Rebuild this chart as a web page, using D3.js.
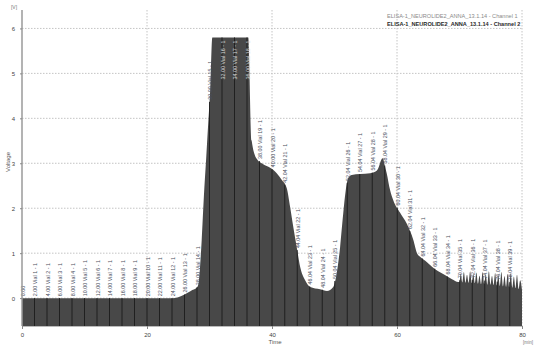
<!DOCTYPE html>
<html>
<head>
<meta charset="utf-8">
<script src="https://cdn.jsdelivr.net/npm/d3@7/dist/d3.min.js"></script>
<style>
  body { margin: 0; background: #fff; }
  svg { display: block; font-family: "Liberation Sans", Arial, sans-serif; }
</style>
</head>
<body>
<svg id="chart" width="534" height="348"></svg>
<script>
// detector trace (minutes / volts)
const timeMin = [0, 24, 25, 26, 27, 28, 28.2, 28.75, 29.1, 29.45, 29.8, 30.1, 30.45,
  36.2, 36.75, 37.55, 38.6, 39.7, 40.75, 41.6, 42.35, 42.9, 43.4, 43.95, 44.5, 45.3, 46.1,
  47.7, 48.8, 49.8, 50.35, 50.9, 51.4, 51.8, 52.2, 52.75, 54.1, 55.7, 56.5, 57.0, 57.45,
  57.7, 58.1, 58.35, 58.9, 59.4, 60.5, 61.55, 62.6, 63.2, 63.7, 64.8, 65.6, 66.6, 67.6,
  68.8, 69.8, 70.0, 70.2, 70.45, 70.7, 70.95, 71.2, 71.45, 71.7, 71.95, 72.2, 72.45, 72.7,
  72.95, 73.2, 73.45, 73.7, 73.95, 74.2, 74.45, 74.7, 74.95, 75.2, 75.45, 75.7, 75.95,
  76.2, 76.45, 76.7, 76.95, 77.2, 77.45, 77.7, 77.95, 78.2, 78.45, 78.7, 78.95, 79.2,
  79.45, 79.7, 80];
const voltage = [0, 0, 0.02, 0.08, 0.16, 0.24, 0.3, 1.29, 2.26, 3.07, 3.9, 4.6, 5.8,
  5.8, 3.5, 3.1, 2.98, 2.9, 2.78, 2.62, 2.45, 2.03, 1.59, 1.14, 0.7, 0.4, 0.25,
  0.2, 0.16, 0.25, 0.55, 1.14, 1.89, 2.4, 2.67, 2.74, 2.76, 2.78, 2.81, 2.89, 3.07,
  3.11, 2.92, 2.78, 2.4, 2.18, 1.9, 1.66, 1.3, 1.0, 0.92, 0.8, 0.7, 0.6, 0.52,
  0.42, 0.36, 0.36, 0.55, 0.35, 0.58, 0.34, 0.52, 0.34, 0.6, 0.33, 0.54, 0.33, 0.57,
  0.32, 0.5, 0.31, 0.58, 0.31, 0.53, 0.3, 0.6, 0.3, 0.5, 0.29, 0.56, 0.28,
  0.52, 0.27, 0.58, 0.26, 0.49, 0.25, 0.54, 0.24, 0.56, 0.23, 0.48, 0.22, 0.52,
  0.2, 0.4, 0.18];

// fraction collector marks
const fractionTimes = [0, 2, 4, 6, 8, 10, 12, 14, 16, 18, 20, 22, 24, 26, 28, 30, 32, 34,
  36, 38, 40, 42.04, 44.04, 46.04, 48.04, 50.04, 52.04, 54.04, 56.04, 58.04, 60.04, 62.04,
  64.04, 66.04, 68.04, 70.04, 72.04, 74.04, 76.04, 78.04];

const xTicks = [0, 20, 40, 60, 80];
const yTicks = [0, 1, 2, 3, 4, 5, 6];
const legendNames = ["ELISA-1_NEUROLIDE2_ANNA_13.1.14 - Channel 1",
                     "ELISA-1_NEUROLIDE2_ANNA_13.1.14 - Channel 2"];

const svg = d3.select("#chart");
const x = d3.scaleLinear().domain([0, 80]).range([22, 522]);
const y = d3.scaleLinear().domain([-0.62, 6.41]).range([326, 10]);

const trace = timeMin.map((t, i) => ({ t: t, v: voltage[i] }));
const bis = d3.bisector(d => d.t).left;
const valueAt = t => {
  let i = bis(trace, t);
  if (i <= 0) return trace[0].v;
  if (i >= trace.length) return trace[trace.length - 1].v;
  const a = trace[i - 1], b = trace[i];
  return a.v + (b.v - a.v) * (t - a.t) / (b.t - a.t);
};

// grid
const grid = svg.append("g").attr("stroke", "#c4c4c4").attr("stroke-dasharray", "1.5,1.5");
grid.selectAll("line.h").data(yTicks).enter().append("line")
  .attr("x1", x(0)).attr("x2", x(80)).attr("y1", d => y(d)).attr("y2", d => y(d));
grid.selectAll("line.v").data(xTicks.slice(1)).enter().append("line")
  .attr("x1", d => x(d)).attr("x2", d => x(d)).attr("y1", y(6.41)).attr("y2", y(-0.62));

// filled trace
svg.append("path")
  .datum(trace)
  .attr("fill", "#484848")
  .attr("d", d3.area().curve(d3.curveMonotoneX)
    .x(d => x(d.t)).y0(y(-0.62)).y1(d => y(d.v)));

// fraction dividers
svg.append("g").selectAll("line").data(fractionTimes.slice(1)).enter().append("line")
  .attr("x1", d => x(d)).attr("x2", d => x(d))
  .attr("y1", y(-0.62)).attr("y2", d => y(valueAt(d)))
  .attr("stroke", "#1c1c1c").attr("stroke-width", 0.9);

// fraction labels: above the trace, or inside it when there is no room above
svg.append("g").selectAll("text").data(fractionTimes).enter().append("text")
  .attr("font-size", "5.4px")
  .text((t, i) => i === 0 ? "0.00" : t.toFixed(2) + " Vial " + i + " - 1")
  .each(function(t) {
    const v = valueAt(t);
    const len = this.getComputedTextLength();
    const inside = y(v) - 2 - len < 3;
    const px = x(t) + 2.5;
    const py = inside ? y(v) + 3 : y(v) - 2;
    d3.select(this)
      .attr("transform", "translate(" + px + "," + py + ") rotate(-90)")
      .attr("text-anchor", inside ? "end" : "start")
      .attr("fill", inside ? "#d8d8d8" : "#4a4f60");
  });

// axes
svg.append("line").attr("x1", x(0)).attr("x2", x(0)).attr("y1", y(6.41)).attr("y2", y(-0.62))
  .attr("stroke", "#9a9a9a").attr("stroke-width", 1.5);

const xAxis = svg.append("g").attr("transform", "translate(0," + y(-0.62) + ")")
  .call(d3.axisBottom(x).tickValues(xTicks).tickSize(3).tickFormat(d3.format("d")));
xAxis.select(".domain").attr("stroke", "#bbb");
xAxis.selectAll(".tick line").attr("stroke", "#888");
xAxis.selectAll(".tick text").attr("font-size", "6px").attr("fill", "#444").attr("dy", "0.9em")
  .attr("font-family", "Liberation Sans, Arial, sans-serif");

const yAxis = svg.append("g").attr("transform", "translate(" + x(0) + ",0)")
  .call(d3.axisLeft(y).tickValues(yTicks).tickSize(2).tickFormat(d3.format("d")));
yAxis.select(".domain").remove();
yAxis.selectAll(".tick line").attr("stroke", "#888");
yAxis.selectAll(".tick text").attr("font-size", "6px").attr("fill", "#444").attr("dx", "-2px")
  .attr("font-family", "Liberation Sans, Arial, sans-serif");

// axis titles
svg.append("text").attr("x", 275).attr("y", 344).attr("text-anchor", "middle")
  .attr("font-size", "6px").attr("fill", "#555").text("Time");
svg.append("text").attr("x", 533).attr("y", 344).attr("text-anchor", "end")
  .attr("font-size", "4.6px").attr("fill", "#777").text("[min]");
svg.append("text").attr("x", 14).attr("y", 9).attr("text-anchor", "middle")
  .attr("font-size", "5px").attr("fill", "#777").text("[V]");
svg.append("text").attr("transform", "translate(10,162) rotate(-90)").attr("text-anchor", "middle")
  .attr("font-size", "6px").attr("fill", "#555").text("Voltage");

// legend
svg.append("g").selectAll("text").data(legendNames).enter().append("text")
  .attr("x", 387).attr("y", (d, i) => 18 + i * 8)
  .attr("font-size", "5.6px")
  .attr("fill", (d, i) => i === 0 ? "#8a8a8a" : "#2a2a2a")
  .attr("font-weight", (d, i) => i === 0 ? "normal" : "bold")
  .text(d => d);
</script>
</body>
</html>
